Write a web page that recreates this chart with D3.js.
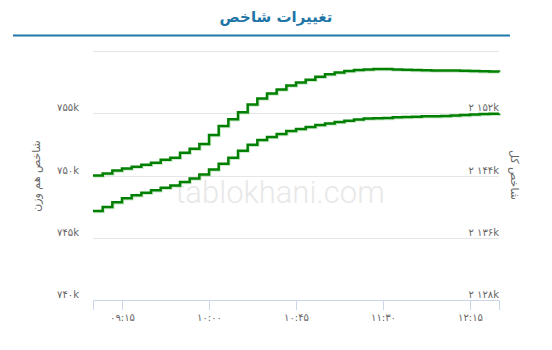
<!DOCTYPE html>
<html>
<head>
<meta charset="utf-8">
<script src="https://cdn.jsdelivr.net/npm/d3@7/dist/d3.min.js"></script>
<style>
  body { margin: 0; background: #fff; }
  svg { display: block; }
</style>
</head>
<body>
<svg id="chart" width="552" height="350"></svg>
<script>
// زمان‌ها (هر ۵ دقیقه)
let times = ['09:00','09:05','09:10','09:15','09:20','09:25','09:30','09:35','09:40','09:45',
	'09:50','09:55','10:00','10:05','10:10','10:15','10:20','10:25','10:30','10:35',
	'10:40','10:45','10:50','10:55','11:00','11:05','11:10','11:15','11:20','11:25',
	'11:30','11:35','11:40','11:45','11:50','11:55','12:00','12:05','12:10','12:15',
	'12:20','12:25','12:30'];

// شاخص هم وزن (محور چپ)
let equalWeight = [750000,750160,750400,750560,750710,750870,751030,751270,751430,751830,
	752140,752540,753250,753970,754520,755080,755710,756190,756590,756900,
	757220,757460,757700,757940,758130,758280,758390,758470,758510,758550,
	758550,758520,758490,758480,758450,758440,758440,758430,758410,758400,
	758370,758350,758330];

// شاخص کل (محور راست)
let totalIndex = [2139430,2139940,2140570,2141080,2141460,2141780,2142100,2142410,2142730,2143170,
	2143620,2144130,2144760,2145520,2146290,2147170,2147940,2148570,2148950,2149330,
	2149710,2149970,2150220,2150480,2150690,2150880,2151030,2151190,2151310,2151370,
	2151400,2151480,2151520,2151560,2151610,2151630,2151660,2151700,2151770,2151850,
	2151910,2151950,2151980];

let xTicks = ['09:15','10:00','10:45','11:30','12:15'];
let leftTicks = [740000, 745000, 750000, 755000];
let rightTicks = [2128000, 2136000, 2144000, 2152000];
let leftDomain = [740000, 760000];
let rightDomain = [2128000, 2160000];

let title = 'تغییرات شاخص';
let leftTitle = 'شاخص هم وزن';
let rightTitle = 'شاخص کل';
let watermark = 'tablokhani.com';

let lineColor = '#008000';
let gridColor = '#e6e6e6';
let axisColor = '#ccd6eb';
let labelColor = '#666666';
let faFont = '"DejaVu Sans", sans-serif';

function fa(s) {
	return String(s).replace(/\d/g, d => '۰۱۲۳۴۵۶۷۸۹'[+d]);
}

let parseTime = d3.timeParse('%H:%M');

let data = times.map(function(t, i) {
	return { time: parseTime(t), ew: equalWeight[i], total: totalIndex[i] };
});

let svg = d3.select('#chart');

let margin = { top: 51, right: 53, bottom: 50, left: 93 };
let width = +svg.attr('width') - margin.left - margin.right;
let height = +svg.attr('height') - margin.top - margin.bottom;

// عنوان
svg.append('text')
	.attr('x', 276)
	.attr('y', 22)
	.attr('text-anchor', 'middle')
	.attr('font-family', faFont)
	.attr('font-size', 15)
	.attr('font-weight', 'bold')
	.attr('fill', '#1f75a6')
	.text(title);

svg.append('line')
	.attr('x1', 13).attr('x2', 510)
	.attr('y1', 35.5).attr('y2', 35.5)
	.attr('stroke', '#1f77aa')
	.attr('stroke-width', 2);

let chart = svg.append('g')
	.attr('transform', 'translate(' + margin.left + ', ' + margin.top + ')');

let x = d3.scaleTime()
	.domain(d3.extent(data, d => d.time))
	.range([0, width]);

let yLeft = d3.scaleLinear().domain(leftDomain).range([height, 0]);
let yRight = d3.scaleLinear().domain(rightDomain).range([height, 0]);

// خطوط شبکه
let gridValues = leftTicks.concat([leftDomain[1]]);
chart.selectAll('.grid')
	.data(gridValues)
	.enter()
	.append('line')
	.attr('class', 'grid')
	.attr('x1', 0).attr('x2', width)
	.attr('y1', d => Math.round(yLeft(d)) + 0.5)
	.attr('y2', d => Math.round(yLeft(d)) + 0.5)
	.attr('stroke', gridColor);

// واترمارک
chart.append('text')
	.attr('x', width / 2 - 16)
	.attr('y', 152)
	.attr('text-anchor', 'middle')
	.attr('font-family', 'Roboto, sans-serif')
	.attr('font-weight', 300)
	.attr('font-size', 31)
	.attr('fill', '#e8e8e8')
	.text(watermark);

// محور x
let xAxis = d3.axisBottom(x)
	.tickValues(xTicks.map(parseTime))
	.tickFormat(d => fa(d3.timeFormat('%H:%M')(d)))
	.tickSize(10)
	.tickPadding(4);

let gx = chart.append('g')
	.attr('transform', 'translate(0, ' + height + ')')
	.call(xAxis);
gx.select('.domain').attr('stroke', axisColor);
gx.selectAll('.tick line').attr('stroke', axisColor);
gx.selectAll('.tick text')
	.attr('fill', labelColor)
	.attr('font-family', faFont)
	.attr('font-size', 10);

// برچسب‌های محور چپ
chart.selectAll('.ylabel-left')
	.data(leftTicks)
	.enter()
	.append('text')
	.attr('class', 'ylabel-left')
	.attr('x', -14)
	.attr('y', d => yLeft(d) - 2)
	.attr('text-anchor', 'end')
	.attr('font-family', faFont)
	.attr('font-size', 10)
	.attr('fill', labelColor)
	.text(d => fa(d / 1000) + 'k');

// برچسب‌های محور راست
chart.selectAll('.ylabel-right')
	.data(rightTicks)
	.enter()
	.append('text')
	.attr('class', 'ylabel-right')
	.attr('x', width)
	.attr('y', d => yRight(d) - 2)
	.attr('text-anchor', 'end')
	.attr('font-family', faFont)
	.attr('font-size', 10)
	.attr('fill', labelColor)
	.text(d => fa(d3.format(',')(d / 1000).replace(',', ' ')) + 'k');

// عنوان محورها
svg.append('text')
	.attr('transform', 'translate(40, 176) rotate(-90)')
	.attr('text-anchor', 'middle')
	.attr('font-family', faFont)
	.attr('font-size', 11)
	.attr('fill', labelColor)
	.text(leftTitle);

svg.append('text')
	.attr('transform', 'translate(511, 175) rotate(90)')
	.attr('text-anchor', 'middle')
	.attr('font-family', faFont)
	.attr('font-size', 11)
	.attr('fill', labelColor)
	.text(rightTitle);

// خطوط سری‌ها
let series = [
	{ key: 'ew', y: yLeft },
	{ key: 'total', y: yRight }
];

series.map(function(s) {
	let line = d3.line()
		.x(d => x(d.time))
		.y(d => s.y(d[s.key]))
		.curve(d3.curveStepAfter);

	chart.append('path')
		.datum(data)
		.attr('fill', 'none')
		.attr('stroke', '#9ed69e')
		.attr('stroke-opacity', 0.5)
		.attr('stroke-width', 2.5)
		.attr('transform', 'translate(1, 1)')
		.attr('d', line);

	chart.append('path')
		.datum(data)
		.attr('fill', 'none')
		.attr('stroke', lineColor)
		.attr('stroke-width', 2.5)
		.attr('d', line);
});
</script>
</body>
</html>
